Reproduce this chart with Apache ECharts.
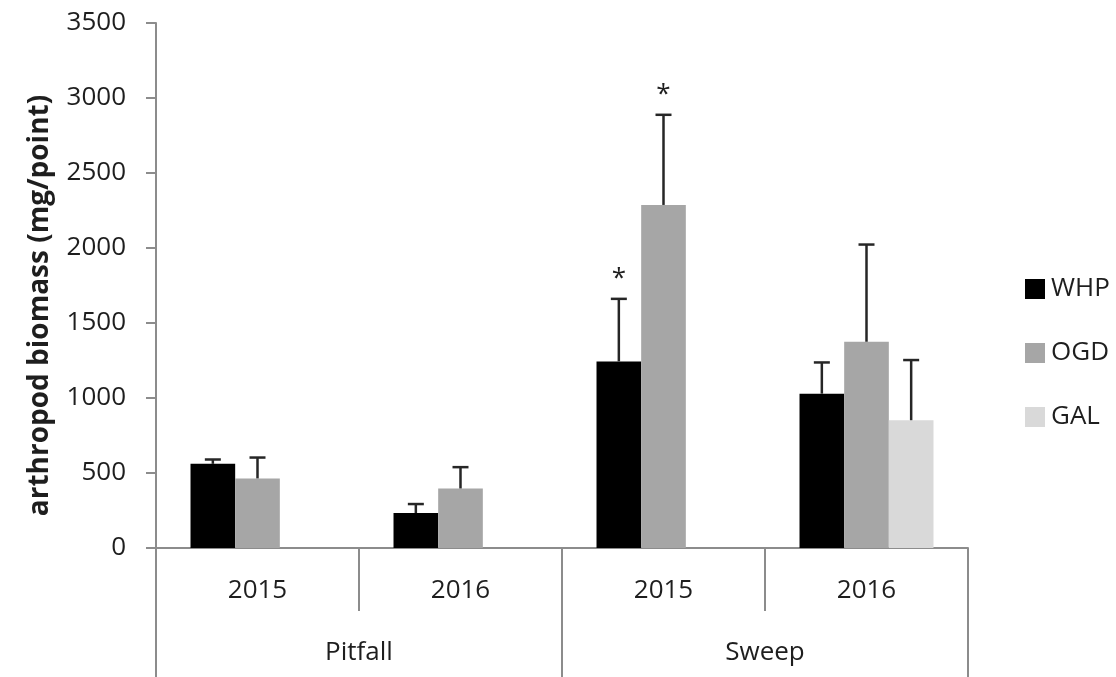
<!DOCTYPE html>
<html>
<head>
<meta charset="utf-8">
<script src="https://cdn.jsdelivr.net/npm/echarts@6/dist/echarts.min.js"></script>
<style>
html,body{margin:0;padding:0;background:#fff;}
#chart{width:1116px;height:677px;}
</style>
</head>
<body>
<div id="chart"></div>
<script>
// ---- data ----
const yearLabels = ['2015', '2016', '2015', '2016'];
const methodLabels = ['Pitfall', 'Sweep'];
const seriesNames = ['WHP', 'OGD', 'GAL'];
const whpValues = [561, 233, 1244, 1029];
const whpErrors = [29, 60, 417, 208];
const ogdValues = [464, 397, 2287, 1375];
const ogdErrors = [139, 142, 601, 648];
const galValues = [null, null, null, 852];
const galErrors = [null, null, null, 401];
const whpSignif = ['', '', '*', ''];
const ogdSignif = ['', '', '*', ''];
const galSignif = ['', '', '', ''];
const yTicks = { min: 0, max: 3500, interval: 500 };

// ---- styling ----
const FONT = 'Open Sans';
const TXT = '#1e1e1e';
const AXIS = '#8c8c8c';
const colors = ['#000000', '#a6a6a6', '#d9d9d9'];
const BAR_FRAC = 0.22;

const chart = echarts.init(document.getElementById('chart'), null, { renderer: 'canvas' });

function barSeries(name, values, color) {
  return {
    name: name,
    type: 'bar',
    xAxisIndex: 0,
    data: values,
    barWidth: (BAR_FRAC * 100) + '%',
    barGap: '0%',
    itemStyle: { color: color },
    z: 2
  };
}

function errSeries(name, idx, values, errs, sig) {
  const data = [];
  values.forEach((v, i) => {
    if (v != null) data.push([i, v, v + errs[i]]);
  });
  return {
    name: name + ' err',
    type: 'custom',
    xAxisIndex: 0,
    data: data,
    encode: { x: 0, y: [1, 2] },
    z: 5,
    silent: true,
    renderItem: function (params, api) {
      const cat = api.value(0);
      const p0 = api.coord([cat, api.value(1)]);
      const p1 = api.coord([cat, api.value(2)]);
      const band = api.size([1, 0])[0];
      const bw = band * BAR_FRAC;
      const x = p0[0] + (idx - 1) * bw;
      const capHalf = 8;
      const style = { stroke: '#262626', lineWidth: 2.5 };
      const children = [
        { type: 'line', shape: { x1: x, y1: p0[1], x2: x, y2: p1[1] }, style: style },
        { type: 'line', shape: { x1: x - capHalf, y1: p1[1], x2: x + capHalf, y2: p1[1] }, style: style }
      ];
      const s = sig[cat];
      if (s) {
        children.push({
          type: 'text',
          style: {
            text: s, x: x, y: p1[1] - 7,
            align: 'center', verticalAlign: 'bottom',
            fill: TXT, font: '26px "' + FONT + '"'
          }
        });
      }
      return { type: 'group', children: children };
    }
  };
}

const option = {
  backgroundColor: '#ffffff',
  animation: false,
  textStyle: { fontFamily: FONT },
  grid: { left: 156, right: 148, top: 23, bottom: 129, containLabel: false },
  legend: {
    data: seriesNames,
    orient: 'vertical',
    left: 1020,
    top: 271,
    itemWidth: 20,
    itemHeight: 20,
    itemGap: 38,
    icon: 'rect',
    textStyle: { fontFamily: FONT, fontSize: 26, color: TXT, padding: [0, 0, 0, 1] }
  },
  xAxis: [
    {
      type: 'category',
      data: yearLabels,
      position: 'bottom',
      axisLine: { show: true, lineStyle: { color: AXIS, width: 2 } },
      axisTick: { show: true, length: 63, alignWithLabel: false, lineStyle: { color: AXIS, width: 2 } },
      axisLabel: { margin: 30, fontFamily: FONT, fontSize: 26, color: TXT },
      splitLine: { show: false }
    },
    {
      type: 'category',
      data: methodLabels,
      position: 'bottom',
      axisLine: { show: false },
      axisTick: { show: true, length: 140, alignWithLabel: false, lineStyle: { color: AXIS, width: 2 } },
      axisLabel: { margin: 92, fontFamily: FONT, fontSize: 26, color: TXT },
      splitLine: { show: false }
    }
  ],
  yAxis: {
    type: 'value',
    min: yTicks.min,
    max: yTicks.max,
    interval: yTicks.interval,
    name: 'arthropod biomass (mg/point)',
    nameLocation: 'middle',
    nameGap: 102,
    nameTextStyle: { fontFamily: FONT, fontSize: 28, fontWeight: 'bold', color: TXT, padding: [0, 40, 0, 0] },
    axisLine: { show: true, lineStyle: { color: AXIS, width: 2 } },
    axisTick: { show: true, length: 10, inside: false, lineStyle: { color: AXIS, width: 2 } },
    axisLabel: { margin: 30, fontFamily: FONT, fontSize: 26, color: TXT, formatter: function (v) { return String(v); } },
    splitLine: { show: false }
  },
  series: [
    barSeries('WHP', whpValues, colors[0]),
    barSeries('OGD', ogdValues, colors[1]),
    barSeries('GAL', galValues, colors[2]),
    errSeries('WHP', 0, whpValues, whpErrors, whpSignif),
    errSeries('OGD', 1, ogdValues, ogdErrors, ogdSignif),
    errSeries('GAL', 2, galValues, galErrors, galSignif)
  ]
};

chart.setOption(option);
</script>
</body>
</html>
